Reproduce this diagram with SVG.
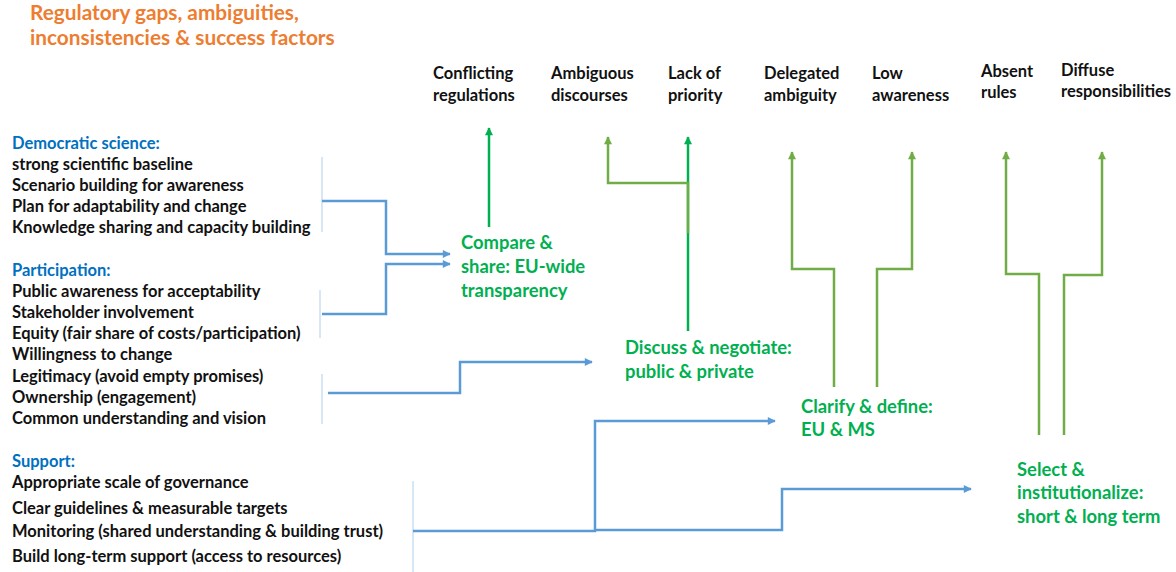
<svg xmlns="http://www.w3.org/2000/svg" width="1176" height="572" viewBox="0 0 1176 572">
<style>
text{font-family:Lato,"Open Sans","Liberation Sans",sans-serif;font-weight:bold}
.t{font-size:20.8px;fill:#ED7D31}
.h{font-size:16.5px;fill:#0070C0}
.b{font-size:16.5px;fill:#111}
.g{font-size:18.4px;fill:#00B050}
.blue{fill:none;stroke:#5B9BD5;stroke-width:2.5;marker-end:url(#ab)}
.thin{fill:none;stroke:#BDD7EE;stroke-width:1.2}
.dg{fill:none;stroke:#00B050;stroke-width:2.5}
.lg{fill:none;stroke:#70AD47;stroke-width:2.5}
</style>
<defs>
<marker id="ab" viewBox="0 0 10 10" refX="9" refY="5" markerWidth="10" markerHeight="8" markerUnits="userSpaceOnUse" orient="auto"><path d="M0,0L10,5L0,10z" fill="#5B9BD5"/></marker>
<marker id="adg" viewBox="0 0 10 10" refX="9" refY="5" markerWidth="10" markerHeight="8" markerUnits="userSpaceOnUse" orient="auto"><path d="M0,0L10,5L0,10z" fill="#00B050"/></marker>
<marker id="alg" viewBox="0 0 10 10" refX="9" refY="5" markerWidth="10" markerHeight="8" markerUnits="userSpaceOnUse" orient="auto"><path d="M0,0L10,5L0,10z" fill="#70AD47"/></marker>
</defs>
<rect width="1176" height="572" fill="#fff"/>
<g id="title">
<text class="t" x="30" y="20">Regulatory gaps, ambiguities,</text>
<text class="t" x="30" y="45">inconsistencies &amp; success factors</text>
</g>
<g id="democratic-science">
<text class="h" x="12" y="149">Democratic science:</text>
<text class="b" x="12" y="170">strong scientific baseline</text>
<text class="b" x="12" y="191">Scenario building for awareness</text>
<text class="b" x="12" y="212">Plan for adaptability and change</text>
<text class="b" x="12" y="233">Knowledge sharing and capacity building</text>
</g>
<g id="participation">
<text class="h" x="12" y="276">Participation:</text>
<text class="b" x="12" y="297">Public awareness for acceptability</text>
<text class="b" x="12" y="318">Stakeholder involvement</text>
<text class="b" x="12" y="339">Equity (fair share of costs/participation)</text>
<text class="b" x="12" y="360">Willingness to change</text>
<text class="b" x="12" y="382">Legitimacy (avoid empty promises)</text>
<text class="b" x="12" y="403">Ownership (engagement)</text>
<text class="b" x="12" y="424">Common understanding and vision</text>
</g>
<g id="support">
<text class="h" x="12" y="467">Support:</text>
<text class="b" x="12" y="488">Appropriate scale of governance</text>
<text class="b" x="12" y="514">Clear guidelines &amp; measurable targets</text>
<text class="b" x="12" y="537">Monitoring (shared understanding &amp; building trust)</text>
<text class="b" x="12" y="562">Build long-term support (access to resources)</text>
</g>
<g id="compare-share">
<text class="g" x="461" y="249">Compare &amp;</text>
<text class="g" x="461" y="273">share: EU-wide</text>
<text class="g" x="461" y="297">transparency</text>
</g>
<g id="discuss-negotiate">
<text class="g" x="625" y="354">Discuss &amp; negotiate:</text>
<text class="g" x="625" y="378">public &amp; private</text>
</g>
<g id="clarify-define">
<text class="g" x="801" y="413">Clarify &amp; define:</text>
<text class="g" x="801" y="436">EU &amp; MS</text>
</g>
<g id="select-institutionalize">
<text class="g" x="1017" y="476">Select &amp;</text>
<text class="g" x="1017" y="499">institutionalize:</text>
<text class="g" x="1017" y="523">short &amp; long term</text>
</g>
<g id="conflicting-regulations"><text class="b" x="433" y="79">Conflicting</text><text class="b" x="433" y="101">regulations</text></g>
<g id="ambiguous-discourses"><text class="b" x="551" y="79">Ambiguous</text><text class="b" x="551" y="101">discourses</text></g>
<g id="lack-of-priority"><text class="b" x="668" y="79">Lack of</text><text class="b" x="668" y="101">priority</text></g>
<g id="delegated-ambiguity"><text class="b" x="764" y="79">Delegated</text><text class="b" x="764" y="101">ambiguity</text></g>
<g id="low-awareness"><text class="b" x="872" y="79">Low</text><text class="b" x="872" y="101">awareness</text></g>
<g id="absent-rules"><text class="b" x="981" y="77">Absent</text><text class="b" x="981" y="98">rules</text></g>
<g id="diffuse-responsibilities"><text class="b" x="1061" y="76">Diffuse</text><text class="b" x="1061" y="97">responsibilities</text></g>
<g id="connectors">
<path class="thin" d="M322,157V232"/>
<path class="thin" d="M320,290V338"/>
<path class="thin" d="M322,374V424"/>
<path class="thin" d="M413,481V572"/>
<path class="blue" d="M322,201H386V254H450"/>
<path class="blue" d="M322,314H386V264H450"/>
<path class="blue" d="M328,393H460V362H592"/>
<path class="blue" d="M413,531H595V421H775"/>
<path class="blue" d="M595,530H782V489H971"/>
<path class="dg" d="M489,227V128" marker-end="url(#adg)"/>
<path class="dg" d="M688,331V137" marker-end="url(#adg)"/>
<path class="lg" d="M688,233V183H608V137" marker-end="url(#alg)"/>
<path class="lg" d="M834,387V269H792V152" marker-end="url(#alg)"/>
<path class="lg" d="M877,387V269H912V152" marker-end="url(#alg)"/>
<path class="lg" d="M1039,435V274H1006V152" marker-end="url(#alg)"/>
<path class="lg" d="M1064,435V275H1102V152" marker-end="url(#alg)"/>
</g>
</svg>
